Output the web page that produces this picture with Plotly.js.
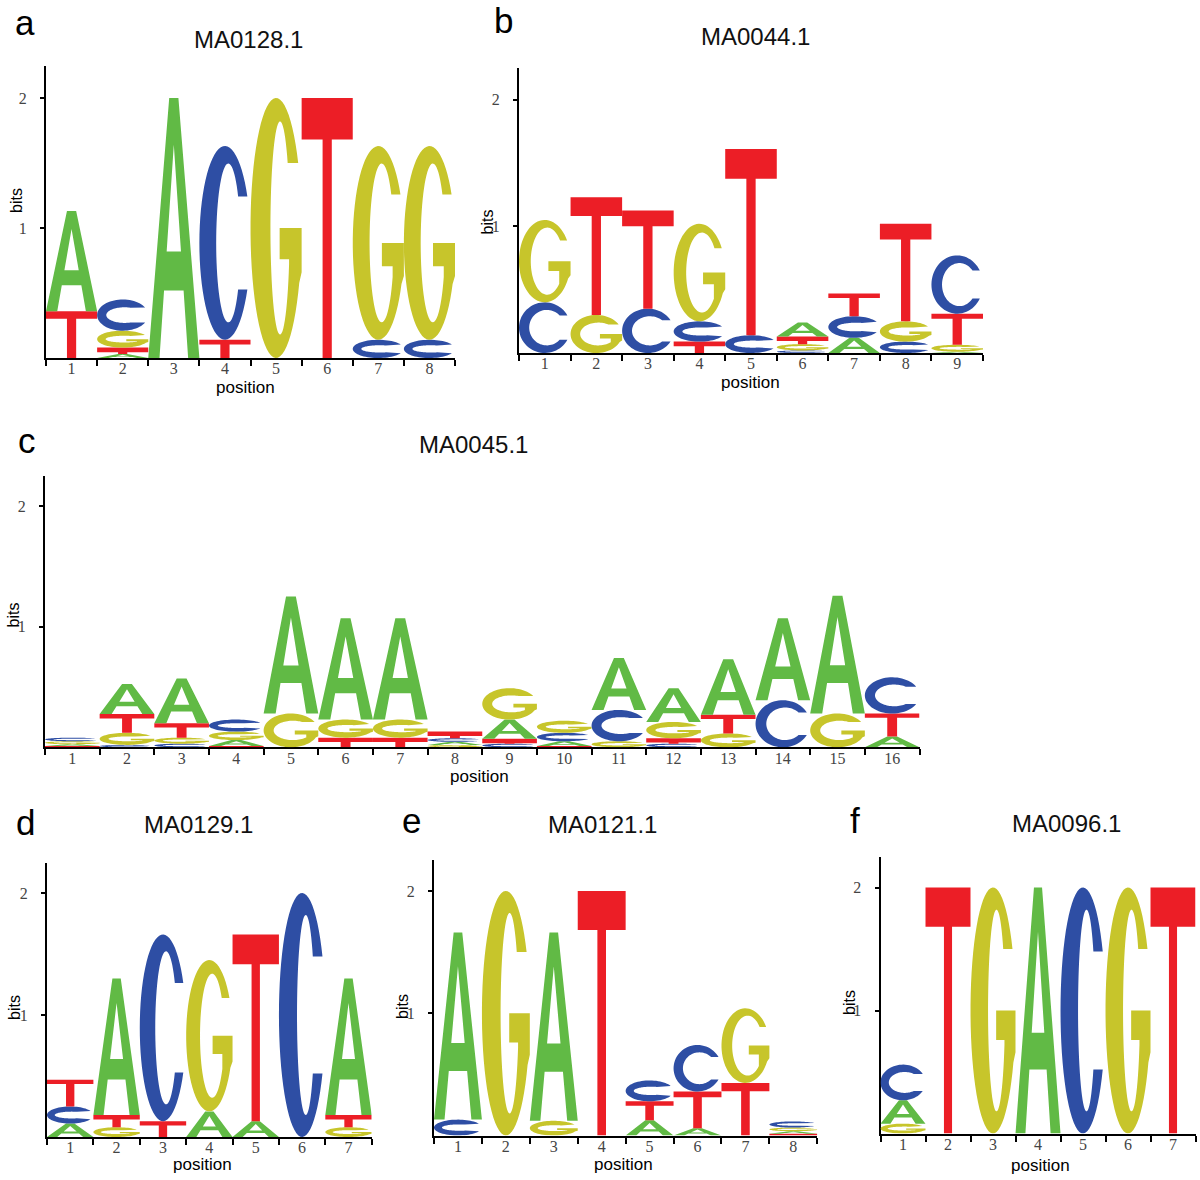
<!DOCTYPE html>
<html><head><meta charset="utf-8">
<script src="https://cdn.plot.ly/plotly-3.0.1.min.js"></script>
<style>html,body{margin:0;padding:0;background:#fff}#chart{width:1200px;height:1180px}</style>
</head><body><div id="chart"></div>
<script>
// ---------------- data (information content, bits) ----------------
const motifNames = ['MA0128.1', 'MA0044.1', 'MA0045.1', 'MA0129.1', 'MA0121.1', 'MA0096.1'];
const panelLetters = ['a', 'b', 'c', 'd', 'e', 'f'];
const bases = ['A', 'C', 'G', 'T'];
const yTickVals = [1, 2];

// a: MA0128.1
const posA = [1, 2, 3, 4, 5, 6, 7, 8];
const ma0128_A = [0.77, 0.03, 2.00, 0, 0, 0, 0, 0];
const ma0128_C = [0, 0.24, 0, 1.49, 0, 0, 0.14, 0.14];
const ma0128_G = [0, 0.13, 0, 0, 2.00, 0, 1.49, 1.49];
const ma0128_T = [0.36, 0.05, 0, 0.14, 0, 2.00, 0, 0];

// b: MA0044.1
const posB = [1, 2, 3, 4, 5, 6, 7, 8, 9];
const ma0044_A = [0, 0, 0, 0, 0, 0.11, 0.12, 0, 0.01];
const ma0044_C = [0.40, 0, 0.35, 0.16, 0.14, 0.02, 0.17, 0.09, 0.46];
const ma0044_G = [0.65, 0.30, 0, 0.77, 0, 0.05, 0, 0.16, 0.055];
const ma0044_T = [0, 0.93, 0.775, 0.09, 1.47, 0.06, 0.18, 0.77, 0.245];

// c: MA0045.1
const posC = [1, 2, 3, 4, 5, 6, 7, 8, 9, 10, 11, 12, 13, 14, 15, 16];
const ma0045_A = [0.015, 0.25, 0.37, 0.05, 0.97, 0.84, 0.84, 0.025, 0.16, 0.04, 0.43, 0.28, 0.46, 0.68, 0.975, 0.09];
const ma0045_C = [0.03, 0.02, 0.03, 0.10, 0, 0, 0, 0.03, 0.03, 0.07, 0.26, 0.03, 0, 0.39, 0, 0.30];
const ma0045_G = [0.025, 0.10, 0.05, 0.07, 0.28, 0.15, 0.15, 0.02, 0.26, 0.10, 0.05, 0.135, 0.115, 0, 0.28, 0];
const ma0045_T = [0.01, 0.155, 0.12, 0.01, 0, 0.08, 0.08, 0.055, 0.04, 0.01, 0, 0.045, 0.155, 0, 0, 0.19];

// d: MA0129.1
const posD = [1, 2, 3, 4, 5, 6, 7];
const ma0129_A = [0.11, 1.12, 0, 0.21, 0.13, 0, 1.12];
const ma0129_C = [0.14, 0, 1.53, 0, 0, 2.00, 0];
const ma0129_G = [0, 0.08, 0, 1.24, 0, 0, 0.08];
const ma0129_T = [0.22, 0.10, 0.13, 0, 1.53, 0, 0.10];

// e: MA0121.1
const posE = [1, 2, 3, 4, 5, 6, 7, 8];
const ma0121_A = [1.53, 0, 1.54, 0, 0.125, 0.06, 0, 0.02];
const ma0121_C = [0.13, 0, 0, 0, 0.17, 0.38, 0, 0.05];
const ma0121_G = [0, 2.00, 0.12, 0, 0, 0, 0.61, 0.03];
const ma0121_T = [0, 0, 0, 2.00, 0.155, 0.30, 0.43, 0.015];

// f: MA0096.1
const posF = [1, 2, 3, 4, 5, 6, 7];
const ma0096_A = [0.19, 0, 0, 2.00, 0, 0, 0];
const ma0096_C = [0.29, 0, 0, 0, 2.00, 0, 0];
const ma0096_G = [0.08, 0, 2.00, 0, 0, 2.00, 0];
const ma0096_T = [0, 2.00, 0, 0, 0, 0, 2.00];

const panelData = [
  {pos: posA, A: ma0128_A, C: ma0128_C, G: ma0128_G, T: ma0128_T},
  {pos: posB, A: ma0044_A, C: ma0044_C, G: ma0044_G, T: ma0044_T},
  {pos: posC, A: ma0045_A, C: ma0045_C, G: ma0045_G, T: ma0045_T},
  {pos: posD, A: ma0129_A, C: ma0129_C, G: ma0129_G, T: ma0129_T},
  {pos: posE, A: ma0121_A, C: ma0121_C, G: ma0121_G, T: ma0121_T},
  {pos: posF, A: ma0096_A, C: ma0096_C, G: ma0096_G, T: ma0096_T}
];

// ---------------- style / layout ----------------
const W = 1200, H = 1180;
const COLORS = {A: '#61ba45', C: '#2e4ea4', G: '#c7c52b', T: '#ec1e26'};
const YMAX = 2.25;
// plot areas in page pixels: left, right, baseline, pixels per bit
const geom = [
  {x0: 46, x1: 455, yb: 358, ppb: 130},
  {x0: 519, x1: 983, yb: 353, ppb: 126.7},
  {x0: 45, x1: 919.5, yb: 747.3, ppb: 120.7},
  {x0: 47, x1: 371.7, yb: 1137, ppb: 122},
  {x0: 434, x1: 817.3, yb: 1135.5, ppb: 122.3},
  {x0: 880.5, x1: 1195.5, yb: 1133.5, ppb: 123}
];
const textPos = [
  {lab: [25, 23], title: [248, 39.5], bits: [16.5, 200.5], position: [246, 388]},
  {lab: [503, 21], title: [755, 36.5], bits: [487, 222.5], position: [750, 382]},
  {lab: [27.5, 440], title: [473, 444], bits: [12.5, 615], position: [479, 776]},
  {lab: [25, 822], title: [198, 824], bits: [14, 1008], position: [202.5, 1164]},
  {lab: [411, 820], title: [602, 824], bits: [402, 1007], position: [623, 1164]},
  {lab: [855, 820], title: [1066.5, 823.5], bits: [849, 1003], position: [1040.5, 1165]}
];

// ---------------- glyph templates (unit box) ----------------
function arc(cx, cy, rx, ry, a0, a1, n) {
  const pts = [];
  for (let i = 0; i <= n; i++) {
    const a = (a0 + (a1 - a0) * i / n) * Math.PI / 180;
    pts.push([cx + rx * Math.cos(a), cy + ry * Math.sin(a)]);
  }
  return pts;
}
const deg = r => r * 180 / Math.PI;

function glyph(letter, h) {
  if (letter === 'T') {
    const bf = Math.min(1, Math.max(0.16, 0.036 / h));
    const v = 1 - bf;
    return [[[0, 1], [1, 1], [1, v], [0.59, v], [0.59, 0], [0.41, 0], [0.41, v], [0, v]]];
  }
  if (letter === 'A') {
    const fw = 0.22, ya = 0.82, yb = 0.26, yt = 0.41;
    const xl = y => fw + (0.5 - fw) * y / ya;
    return [
      [[0, 0], [0.41, 1], [0.59, 1], [1, 0], [1 - fw, 0], [1 - xl(yb), yb], [xl(yb), yb], [fw, 0]],
      [[xl(yt), yt], [1 - xl(yt), yt], [0.5, ya]]
    ];
  }
  // C and G
  const sx = Math.min(0.45, 0.15 + 0.12 * h);
  const sy = Math.max(0.09, Math.min(0.3, 0.06 / h));
  const il = sx, ir = 1 - 0.6 * sx;
  const icx = (il + ir) / 2, irx = (ir - il) / 2, icy = 0.5, iry = 0.5 - sy;
  if (letter === 'C') {
    const dU = 0.24, dL = 0.24;
    const aU = deg(Math.asin(dU / 0.5)), aL = deg(Math.asin(dL / 0.5));
    const bU = deg(Math.asin(Math.min(dU, iry * 0.95) / iry));
    const bL = deg(Math.asin(Math.min(dL, iry * 0.95) / iry));
    const outer = arc(0.5, 0.5, 0.5, 0.5, aU, 360 - aL, 60);
    const inner = arc(icx, icy, irx, iry, 360 - bL, bU, 60);
    return [outer.concat(inner)];
  }
  // G
  const dU = 0.25;
  const aU = deg(Math.asin(dU / 0.5));
  const bU = deg(Math.asin(Math.min(dU, iry * 0.95) / iry));
  const outer = arc(0.5, 0.5, 0.5, 0.5, aU, 335, 60);
  const xs = Math.min(0.78, icx + irx * 0.94);
  const th = -deg(Math.acos((xs - icx) / irx));
  const yIn = icy + iry * Math.sin(th * Math.PI / 180);
  const spur = [[1, 0.33], [1, 0.5], [0.57, 0.5], [0.57, 0.38], [xs, Math.max(0.38, yIn)]];
  const inner = arc(icx, icy, irx, iry, 360 + th, bU, 60);
  return [outer.concat(spur, inner)];
}

function glyphPath(letter, xc, y0, h) {
  const x0 = xc - 0.5, x1 = xc + 0.5;
  const subs = glyph(letter, h);
  return subs.map(s => 'M' + s.map(p =>
    (x0 + p[0] * (x1 - x0)).toFixed(4) + ',' + (y0 + p[1] * h).toFixed(5)).join('L') + 'Z').join('');
}

// ---------------- build figure ----------------
const layout = {
  width: W, height: H,
  margin: {l: 0, r: 0, t: 0, b: 0},
  paper_bgcolor: '#ffffff', plot_bgcolor: 'rgba(0,0,0,0)',
  showlegend: false,
  font: {family: 'Liberation Sans, Arial, sans-serif', color: '#000'},
  shapes: [], annotations: []
};
const traces = [];
const tickFont = {family: 'Liberation Serif, DejaVu Serif, serif', size: 16, color: '#444'};

panelData.forEach((pd, i) => {
  const k = i === 0 ? '' : String(i + 1);
  const g = geom[i];
  const ytop = g.yb - YMAX * g.ppb;
  const n = pd.pos.length;
  layout['xaxis' + k] = {
    domain: [g.x0 / W, g.x1 / W], range: [0.5, n + 0.5], anchor: 'y' + k,
    tickmode: 'array', tickvals: pd.pos, ticktext: pd.pos.map(String), ticks: '',
    showline: true, linecolor: '#000', linewidth: 2, showgrid: false, zeroline: false,
    tickfont: tickFont, ticklabelstandoff: -5, fixedrange: true,
    minor: {tickmode: 'linear', tick0: 0.5, dtick: 1, ticks: 'outside', ticklen: 6, tickwidth: 2, tickcolor: '#000', showgrid: false}
  };
  layout['yaxis' + k] = {
    domain: [1 - g.yb / H, 1 - ytop / H], range: [0, YMAX], anchor: 'x' + k,
    tickmode: 'array', tickvals: yTickVals, ticktext: yTickVals.map(String),
    ticks: 'outside', ticklen: 4, tickwidth: 2, tickcolor: '#000',
    showline: true, linecolor: '#000', linewidth: 2, showgrid: false, zeroline: false,
    tickfont: tickFont, ticklabelstandoff: 10, fixedrange: true
  };
  // invisible anchor trace so the subplot exists
  traces.push({type: 'scatter', mode: 'markers', x: pd.pos, y: pd.pos.map(() => 0),
    xaxis: 'x' + k, yaxis: 'y' + k, marker: {opacity: 0, size: 1}, hoverinfo: 'skip', showlegend: false});

  // letters, stacked smallest at bottom
  pd.pos.forEach((p, j) => {
    const col = bases.map((b, bi) => ({b, v: pd[b][j], bi})).filter(o => o.v > 0)
      .sort((u, w) => u.v - w.v || u.bi - w.bi);
    let y = 0;
    col.forEach(o => {
      layout.shapes.push({
        type: 'path', xref: 'x' + k, yref: 'y' + k, layer: 'above',
        path: glyphPath(o.b, p, y, o.v), fillcolor: COLORS[o.b],
        fillrule: 'evenodd', line: {width: 0}
      });
      y += o.v;
    });
  });

  const tp = textPos[i];
  const ann = (xy, text, size, extra) => Object.assign({
    xref: 'paper', yref: 'paper', x: xy[0] / W, y: 1 - xy[1] / H,
    xanchor: 'center', yanchor: 'middle', showarrow: false, text,
    font: {family: 'Liberation Sans, Arial, sans-serif', size, color: '#000'}
  }, extra || {});
  layout.annotations.push(ann(tp.lab, panelLetters[i], 35));
  layout.annotations.push(ann(tp.title, motifNames[i], 24, {font: {family: 'Liberation Sans, Arial, sans-serif', size: 24, color: '#111'}}));
  layout.annotations.push(ann(tp.bits, 'bits', 16, {textangle: -90}));
  layout.annotations.push(ann(tp.position, 'position', 17));
});

Plotly.newPlot('chart', traces, layout, {staticPlot: true});
</script>
</body></html>
